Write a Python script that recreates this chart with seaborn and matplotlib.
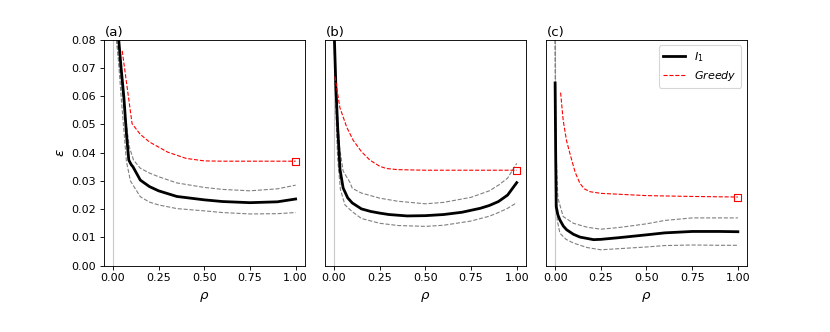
import numpy as np
import matplotlib
matplotlib.use("Agg")
import matplotlib.pyplot as plt
import seaborn as sns

# ---- panel (a) ----
rho_a_i1 = [0.032, 0.045, 0.06, 0.075, 0.087, 0.1, 0.11, 0.15, 0.2, 0.25, 0.35, 0.5, 0.6, 0.75, 0.9, 1.0]
eps_a_i1 = [0.080, 0.070, 0.0597, 0.046, 0.0374, 0.0358, 0.035, 0.0303, 0.028, 0.0265, 0.0245, 0.0233, 0.0227, 0.0223, 0.0226, 0.0236]
rho_a_up = [0.02, 0.05, 0.078, 0.09, 0.113, 0.15, 0.2, 0.25, 0.35, 0.5, 0.6, 0.75, 0.9, 1.0]
eps_a_up = [0.080, 0.062, 0.048, 0.042, 0.0374, 0.0345, 0.0328, 0.0315, 0.0293, 0.0277, 0.027, 0.0265, 0.0272, 0.0285]
rho_a_lo = [0.02, 0.032, 0.045, 0.074, 0.096, 0.15, 0.2, 0.25, 0.35, 0.5, 0.6, 0.75, 0.9, 1.0]
eps_a_lo = [0.080, 0.0714, 0.060, 0.037, 0.030, 0.0244, 0.0225, 0.0215, 0.0202, 0.0194, 0.0188, 0.0183, 0.0184, 0.0188]
rho_a_gr = [0.051, 0.105, 0.15, 0.2, 0.25, 0.3, 0.4, 0.5, 0.6, 0.75, 1.0]
eps_a_gr = [0.0761, 0.0503, 0.0465, 0.0438, 0.042, 0.0402, 0.038, 0.0371, 0.037, 0.037, 0.037]

# ---- panel (b) ----
rho_b_i1 = [0.0, 0.01, 0.02, 0.033, 0.05, 0.075, 0.1, 0.15, 0.2, 0.25, 0.3, 0.4, 0.5, 0.6, 0.7, 0.8, 0.85, 0.9, 0.95, 1.0]
eps_b_i1 = [0.085, 0.064, 0.049, 0.034, 0.0275, 0.024, 0.0222, 0.0201, 0.0192, 0.0186, 0.0181, 0.0176, 0.0177, 0.0181, 0.0189, 0.0203, 0.0213, 0.0227, 0.025, 0.0294]
rho_b_up = [0.002, 0.015, 0.03, 0.05, 0.087, 0.1, 0.15, 0.25, 0.35, 0.5, 0.6, 0.75, 0.85, 0.9, 0.95, 1.0]
eps_b_up = [0.080, 0.058, 0.042, 0.0335, 0.0295, 0.0274, 0.0257, 0.0239, 0.0228, 0.0219, 0.0224, 0.0242, 0.0265, 0.0285, 0.031, 0.0362]
rho_b_lo = [0.0, 0.01, 0.02, 0.035, 0.06, 0.1, 0.15, 0.25, 0.35, 0.5, 0.6, 0.75, 0.85, 0.9, 0.95, 1.0]
eps_b_lo = [0.080, 0.055, 0.038, 0.027, 0.0215, 0.0191, 0.0167, 0.015, 0.0142, 0.0139, 0.0143, 0.0158, 0.0175, 0.0188, 0.0203, 0.0223]
rho_b_gr = [0.005, 0.032, 0.07, 0.105, 0.15, 0.196, 0.25, 0.287, 0.35, 0.5, 0.75, 1.0]
eps_b_gr = [0.0670, 0.056, 0.049, 0.0444, 0.0404, 0.0374, 0.0352, 0.0344, 0.034, 0.0338, 0.0338, 0.0338]

# ---- panel (c) ----
rho_c_i1 = [0.0, 0.003, 0.006, 0.015, 0.026, 0.045, 0.063, 0.1, 0.136, 0.21, 0.25, 0.35, 0.5, 0.6, 0.75, 0.9, 1.0]
eps_c_i1 = [0.0647, 0.040, 0.0209, 0.018, 0.0162, 0.0140, 0.0127, 0.0111, 0.0101, 0.0092, 0.0093, 0.0099, 0.0109, 0.0116, 0.0121, 0.0121, 0.0120]
rho_c_up = [0.0, 0.005, 0.015, 0.044, 0.1, 0.175, 0.25, 0.35, 0.5, 0.6, 0.75, 0.9, 1.0]
eps_c_up = [0.080, 0.040, 0.024, 0.0174, 0.015, 0.0136, 0.0129, 0.0135, 0.0148, 0.016, 0.0169, 0.0169, 0.0169]
rho_c_lo = [0.0, 0.004, 0.012, 0.026, 0.06, 0.1, 0.175, 0.25, 0.35, 0.5, 0.6, 0.75, 0.9, 1.0]
eps_c_lo = [0.080, 0.030, 0.016, 0.0115, 0.0093, 0.008, 0.0064, 0.0056, 0.006, 0.0066, 0.0071, 0.0073, 0.0072, 0.0072]
rho_c_gr = [0.03, 0.044, 0.062, 0.081, 0.11, 0.136, 0.16, 0.19, 0.25, 0.5, 0.75, 1.0]
eps_c_gr = [0.0613, 0.0515, 0.0444, 0.0397, 0.033, 0.0291, 0.0272, 0.0262, 0.0256, 0.0248, 0.0245, 0.0243]

panels = [
    ("(a)", rho_a_i1, eps_a_i1, rho_a_up, eps_a_up, rho_a_lo, eps_a_lo, rho_a_gr, eps_a_gr),
    ("(b)", rho_b_i1, eps_b_i1, rho_b_up, eps_b_up, rho_b_lo, eps_b_lo, rho_b_gr, eps_b_gr),
    ("(c)", rho_c_i1, eps_c_i1, rho_c_up, eps_c_up, rho_c_lo, eps_c_lo, rho_c_gr, eps_c_gr),
]
xticks = [0.0, 0.25, 0.5, 0.75, 1.0]

fig, axes = plt.subplots(1, 3, figsize=(10.375, 4.15), dpi=80, sharey=True)
fig.subplots_adjust(left=0.125, right=0.9, top=0.88, bottom=0.2, wspace=0.1)

for i, (lab, r1, e1, ru, eu, rl, el, rg, eg) in enumerate(panels):
    ax = axes[i]
    ax.axvline(0, color='#c8c8c8', lw=1, zorder=0)
    sns.lineplot(x=rl, y=el, ax=ax, color='gray', lw=1, linestyle='--', sort=False)
    sns.lineplot(x=ru, y=eu, ax=ax, color='gray', lw=1, linestyle='--', sort=False)
    sns.lineplot(x=r1, y=e1, ax=ax, color='black', lw=2.5, sort=False, label='$I_1$')
    sns.lineplot(x=rg, y=eg, ax=ax, color='red', lw=1, linestyle='--', sort=False,
                 label='$Greedy$')
    # open square at the last greedy point
    sns.scatterplot(x=rg[-1:], y=eg[-1:], ax=ax, marker='s', s=40,
                    facecolors='none', edgecolor='red', linewidth=1, zorder=5)
    ax.set_xlim(-0.05, 1.05)
    ax.set_ylim(0, 0.08)
    ax.set_xticks(xticks)
    ax.set_xlabel(r'$\rho$', fontsize=12, labelpad=6)
    ax.text(0.005, 1.005, lab, transform=ax.transAxes, ha='left', va='bottom', fontsize=12)
    if i == 2:
        ax.legend(loc='upper right')
    else:
        ax.get_legend().remove()
    if i > 0:
        ax.tick_params(axis='y', left=False, labelleft=False)

axes[0].set_ylabel(r'$\epsilon$', fontsize=12)

fig.savefig('out.png', dpi=80)
